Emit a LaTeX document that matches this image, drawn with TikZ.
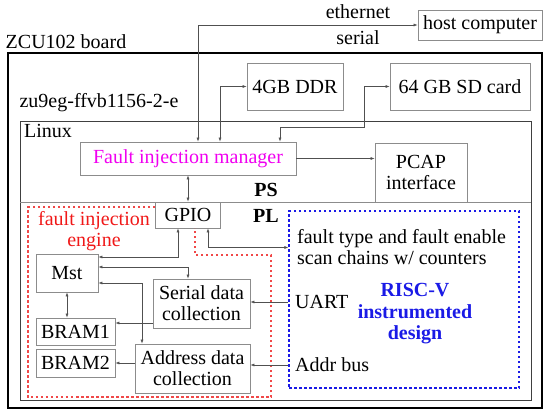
\documentclass[tikz,border=0pt]{standalone}
\usepackage{fontspec}
\setmainfont{Liberation Serif}
\usepackage{tikz}
\usetikzlibrary{arrows.meta,positioning,calc}
\definecolor{boxgray}{HTML}{8C8C8C}
\definecolor{wiregray}{HTML}{505050}
\definecolor{fimmagenta}{HTML}{F000F0}
\definecolor{fiered}{HTML}{F01818}
\definecolor{dashred}{HTML}{F04848}
\definecolor{riscblue}{HTML}{1A1AE6}

\begin{document}
\begin{tikzpicture}[x=1pt,y=-1pt,
  font=\fontsize{20}{21}\selectfont,
  box/.style={draw=boxgray,line width=0.8pt,inner sep=0pt,align=center},
  boldtext/.style={font=\fontsize{20}{21.5}\selectfont\bfseries},
  region/.style={line width=1.05pt,dash pattern=on 2.5pt off 2.5pt},
  conn/.style={draw=wiregray,line width=0.6pt,-{Latex[length=4pt,width=3pt]}},
  biconn/.style={conn,{Latex[length=4pt,width=3pt]}-{Latex[length=4pt,width=3pt]}}]
  \useasboundingbox (0,0) rectangle (550,415);

  % board and chip
  \draw[line width=1.6pt] (8,53) rectangle (542,408);
  \draw[darkgray,line width=1pt] (20,121) rectangle (531,400);
  \draw[boxgray,line width=0.8pt] (20,202) -- (531,202);
  \node (boardname) at (66,42) {ZCU102 board};
  \node (chipname) at (99,103) {zu9eg-ffvb1156-2-e};
  \node[anchor=west,inner sep=0pt] (linux) at (24,131) {Linux};

  % outside and PS side
  \node[box,minimum width=124pt,minimum height=30pt] (host) at (480,25) {host computer};
  \node (eth) at (358,12) {ethernet};
  \node (ser) at (358,38) {serial};
  \node[box,minimum width=96pt,minimum height=47pt] (ddr) at (295,86.5) {4GB DDR};
  \node[box,minimum width=140pt,minimum height=47pt] (sd) at (460,86.5) {64 GB SD card};
  \node[box,text=fimmagenta,minimum width=216pt,minimum height=33pt] (fim) at (188,158.5) {Fault injection manager};
  \node[box,minimum width=92pt,minimum height=59pt] (pcap) at (421,172.5) {PCAP\\interface};
  \node[boldtext] (ps) at (266,190) {PS};
  \node[boldtext] (pl) at (266,216) {PL};

  % PL side
  \node[box,minimum width=65pt,minimum height=26pt] (gpio) at (188,215) {GPIO};
  \draw[region,dashred]
    (155,207) -- (28,207) -- (28,397) -- (271,397) -- (271,255) -- (195,255) -- (195,228);
  \node[text=fiered,align=center] (fiename) at (94,231) {fault injection\\engine};
  \node[box,minimum width=62pt,minimum height=38pt] (mst) at (67,273) {Mst};
  \node[box,minimum width=79pt,minimum height=27pt] (bram1) at (75.5,331.5) {BRAM1};
  \node[box,minimum width=79pt,minimum height=28pt] (bram2) at (75.5,363) {BRAM2};
  \node[box,minimum width=97pt,minimum height=49pt] (serial) at (201.5,303.5) {Serial data\\collection};
  \node[box,minimum width=115pt,minimum height=49pt] (addr) at (192.5,368.5) {Address data\\collection};

  \node[region,draw=riscblue,inner sep=0pt,
    minimum width=230pt,minimum height=177pt] (risc) at (404,299.5) {};
  \node[anchor=west,align=left,inner sep=0pt] (scan) at (297,247.5) {fault type and fault enable\\scan chains w/ counters};
  \node[anchor=west,inner sep=0pt] (uart) at (295,302) {UART};
  \node[anchor=west,inner sep=0pt] (addrbus) at (295,365) {Addr bus};
  \node[boldtext,text=riscblue,align=center] (riscname) at (415,314) {RISC-V\\instrumented\\design};

  % connectors
  \coordinate (sdbend) at (364,127);
  \coordinate (serout) at ([yshift=-19.5pt]serial.west);
  \draw[biconn] ([xshift=10pt]fim.north) |- (host.west);
  \draw[biconn] ([xshift=32pt]fim.north) |- (ddr.west);
  \draw[biconn] (sd.west) -| (sdbend) -| ([xshift=92pt]fim.north);
  \draw[conn] (fim.east) -- (fim.east -| pcap.west);
  \draw[biconn] (fim.south) -- (gpio.north);
  \draw[biconn] ([xshift=20pt]gpio.south) |- (risc.west |- scan.west);
  \draw[biconn] ([xshift=-10pt]gpio.south) |- ([yshift=16pt]mst.east);
  \draw[biconn] ([yshift=6pt]mst.east) -| ([xshift=-13.5pt]serial.north);
  \draw[biconn] ([yshift=-10pt]mst.east) -| ([xshift=-50.5pt]addr.north);
  \draw[biconn] (mst.south) -- (mst.south |- bram1.north);
  \draw[conn] (serout) -- (serout -| bram1.east);
  \draw[conn] (bram2.east -| addr.west) -- (bram2.east);
  \draw[conn] (risc.west |- uart) -- (serial.east |- uart);
  \draw[conn] (risc.west |- addrbus) -- (addr.east |- addrbus);
\end{tikzpicture}
\end{document}
